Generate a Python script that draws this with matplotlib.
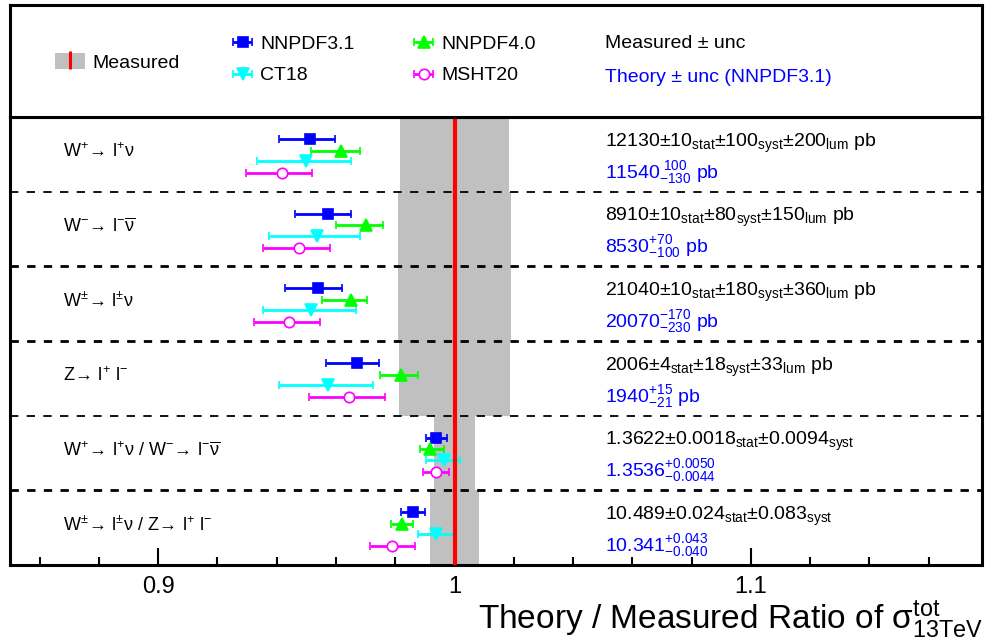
#!/usr/bin/env python3
"""Theory / measured ratio of 13 TeV W and Z total cross sections for several PDF sets."""

import numpy as np
import matplotlib
matplotlib.use("Agg")
import matplotlib.pyplot as plt
from matplotlib.patches import Patch
from matplotlib.lines import Line2D
from matplotlib.ticker import MultipleLocator, FuncFormatter
from matplotlib.transforms import blended_transform_factory

plt.rcParams["font.family"] = ["Liberation Sans", "DejaVu Sans"]
plt.rcParams["mathtext.fontset"] = "custom"
plt.rcParams["mathtext.rm"] = "Liberation Sans"
plt.rcParams["mathtext.it"] = "Liberation Sans:italic"
plt.rcParams["mathtext.bf"] = "Liberation Sans:bold"
plt.rcParams["lines.scale_dashes"] = False

# ---- data ----
channels = [
    r"$\mathrm{W}^{+}\!\rightarrow\,\mathrm{l}^{+}\mathrm{\nu}$",
    r"$\mathrm{W}^{-}\!\rightarrow\,\mathrm{l}^{-}\overline{\mathrm{\nu}}$",
    r"$\mathrm{W}^{\pm}\!\rightarrow\,\mathrm{l}^{\pm}\mathrm{\nu}$",
    r"$\mathrm{Z}\!\rightarrow\,\mathrm{l}^{+}\ \mathrm{l}^{-}$",
    r"$\mathrm{W}^{+}\!\rightarrow\,\mathrm{l}^{+}\mathrm{\nu}\ /\ \mathrm{W}^{-}\!\rightarrow\,\mathrm{l}^{-}\overline{\mathrm{\nu}}$",
    r"$\mathrm{W}^{\pm}\!\rightarrow\,\mathrm{l}^{\pm}\mathrm{\nu}\ /\ \mathrm{Z}\!\rightarrow\,\mathrm{l}^{+}\ \mathrm{l}^{-}$",
]

# measured values and uncertainties
meas = np.array([12130, 8910, 21040, 2006, 1.3622, 10.489])
meas_stat = np.array([10, 10, 10, 4, 0.0018, 0.024])
meas_syst = np.array([100, 80, 180, 18, 0.0094, 0.083])
meas_lum = np.array([200, 150, 360, 33, 0.0, 0.0])

# NNPDF3.1 theory prediction
theo = np.array([11540, 8530, 20070, 1940, 1.3536, 10.341])
theo_up = np.array([100, 70, 170, 15, 0.0050, 0.043])
theo_dn = np.array([130, 100, 230, 21, 0.0044, 0.040])

meas_text = [
    r"12130±$10_{\mathrm{stat}}$±$100_{\mathrm{syst}}$±$200_{\mathrm{lum}}$ pb",
    r"8910±$10_{\mathrm{stat}}$±$80_{\mathrm{syst}}$±$150_{\mathrm{lum}}$ pb",
    r"21040±$10_{\mathrm{stat}}$±$180_{\mathrm{syst}}$±$360_{\mathrm{lum}}$ pb",
    r"2006±$4_{\mathrm{stat}}$±$18_{\mathrm{syst}}$±$33_{\mathrm{lum}}$ pb",
    r"1.3622±$0.0018_{\mathrm{stat}}$±$0.0094_{\mathrm{syst}}$",
    r"10.489±$0.024_{\mathrm{stat}}$±$0.083_{\mathrm{syst}}$",
]
theo_text = [
    r"$11540^{\ 100}_{-130}$ pb",
    r"$8530^{+70}_{-100}$ pb",
    r"$20070^{-170}_{-230}$ pb",
    r"$1940^{+15}_{-21}$ pb",
    r"$1.3536^{+0.0050}_{-0.0044}$",
    r"$10.341^{+0.043}_{-0.040}$",
]

nnpdf40_c = [0.9618, 0.9700, 0.9652, 0.9821, 0.9916, 0.9824]
nnpdf40_lo = [0.9517, 0.9600, 0.9554, 0.9750, 0.9885, 0.9787]
nnpdf40_hi = [0.9680, 0.9757, 0.9706, 0.9878, 0.9963, 0.9861]

ct18_c = [0.9500, 0.9537, 0.9517, 0.9574, 0.9963, 0.9939]
ct18_lo = [0.9334, 0.9375, 0.9355, 0.9409, 0.9905, 0.9878]
ct18_hi = [0.9652, 0.9682, 0.9666, 0.9726, 1.0020, 0.9998]

msht20_c = [0.9419, 0.9476, 0.9443, 0.9645, 0.9939, 0.9790]
msht20_lo = [0.9297, 0.9355, 0.9324, 0.9510, 0.9895, 0.9716]
msht20_hi = [0.9520, 0.9580, 0.9547, 0.9764, 0.9980, 0.9868]

# ---- derived ----
rel_unc = np.sqrt(meas_stat**2 + meas_syst**2 + meas_lum**2) / meas
nn31_c = theo / meas
nn31_lo = (theo - theo_dn) / meas
nn31_hi = (theo + theo_up) / meas

rows = np.arange(len(channels))

fig = plt.figure(figsize=(9.86, 6.42), dpi=100)
left, width = 10 / 986, 972 / 986
ax = fig.add_axes([left, 77 / 642, width, 448 / 642])
ax_leg = fig.add_axes([left, 525 / 642, width, 112 / 642])

# measured bands + line
ax.barh(rows + 0.5, 2 * rel_unc, left=1 - rel_unc, height=1.0,
        color="#c0c0c0", zorder=1)
for yy, lw in zip(range(1, 6), [1.3, 2.0, 2.0, 1.3, 2.0]):
    ax.axhline(yy, color="black", lw=lw, ls=(0, (6, 6)), zorder=2)

series = [
    ("NNPDF3.1", nn31_c, nn31_lo, nn31_hi, "s", "#0000ff", 0.295, 7),
    ("NNPDF4.0", nnpdf40_c, nnpdf40_lo, nnpdf40_hi, "^", "#00ff00", 0.45, 8),
    ("CT18", ct18_c, ct18_lo, ct18_hi, "v", "#00ffff", 0.59, 8),
    ("MSHT20", msht20_c, msht20_lo, msht20_hi, "o", "#ff00ff", 0.75, 7.5),
]
handles = {}
for name, c, lo, hi, mk, col, off, ms in series:
    c, lo, hi = np.asarray(c), np.asarray(lo), np.asarray(hi)
    h = ax.errorbar(c, rows + off, xerr=[c - lo, hi - c], fmt=mk, color=col,
                    ms=ms, mfc="white" if mk == "o" else col, mew=1.2,
                    elinewidth=2, capsize=3, capthick=2.5, zorder=3,
                    label=name)
    handles[name] = h

ax.axvline(1.0, color="#ff0000", lw=3, zorder=4)

ax.set_xlim(0.85, 1.178)
ax.set_ylim(6, 0)
ax.set_yticks([])
ax.xaxis.set_major_locator(MultipleLocator(0.1))
ax.xaxis.set_minor_locator(MultipleLocator(0.02))
ax.xaxis.set_major_formatter(FuncFormatter(lambda v, p: f"{v:g}"))
ax.tick_params(axis="x", which="major", direction="in", length=12, width=1.5,
               labelsize=17, pad=8)
ax.tick_params(axis="x", which="minor", direction="in", length=6, width=1.5)
for s in ax.spines.values():
    s.set_linewidth(2.2)

# axis title, right-aligned under the axis
fig.text(983 / 986, 13 / 642,
         r"Theory / Measured Ratio of $\mathrm{\sigma}^{\mathrm{tot}}_{\mathrm{13TeV}}$",
         fontsize=24, ha="right", va="baseline")

# row annotations
trans = blended_transform_factory(ax.transAxes, ax.transData)
for i in rows:
    ax.text(0.0545, i + 0.47, channels[i], transform=trans, fontsize=13,
            ha="left", va="center")
    ax.text(0.612, i + 0.35, meas_text[i], transform=trans, fontsize=14,
            ha="left", va="center", color="black")
    ax.text(0.612, i + 0.74, theo_text[i], transform=trans, fontsize=14,
            ha="left", va="center", color="#0000ff")

# legend box on top
ax_leg.set_xticks([])
ax_leg.set_yticks([])
for s in ax_leg.spines.values():
    s.set_linewidth(2.2)

meas_handle = (Patch(facecolor="#c0c0c0", edgecolor="none"),
               Line2D([], [], marker="|", color="#ff0000", ms=13, mew=2.2, ls=""))
leg1 = ax_leg.legend([meas_handle], ["Measured"], loc="center left",
                     bbox_to_anchor=(0.046, 0.49), frameon=False, fontsize=14,
                     borderpad=0, borderaxespad=0, handlelength=1.55,
                     handleheight=0.95, handletextpad=0.4)
ax_leg.add_artist(leg1)

order = ["NNPDF3.1", "CT18", "NNPDF4.0", "MSHT20"]
ax_leg.legend([handles[n] for n in order], order, ncol=2, loc="center left",
              bbox_to_anchor=(0.2284, 0.51), frameon=False, fontsize=14,
              borderpad=0, borderaxespad=0, handlelength=1.1,
              handletextpad=0.35, columnspacing=3.0, labelspacing=0.72)

ax_leg.text(0.612, 0.66, "Measured ± unc", transform=ax_leg.transAxes,
            fontsize=14, ha="left", va="center")
ax_leg.text(0.612, 0.35, "Theory ± unc (NNPDF3.1)", transform=ax_leg.transAxes,
            fontsize=14, ha="left", va="center", color="#0000ff")

fig.savefig("out.png", dpi=100)
